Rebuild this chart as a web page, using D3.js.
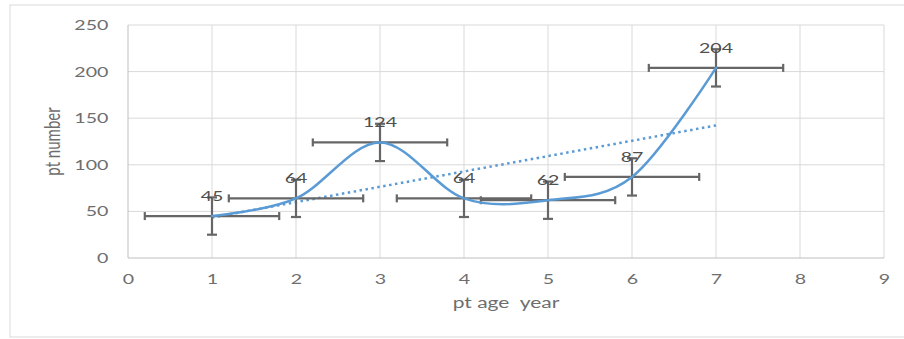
<!DOCTYPE html>
<html><head><meta charset="utf-8">
<script src="https://cdn.jsdelivr.net/npm/d3@7"></script>
<style>body{margin:0;background:#fff}svg{display:block}text{font-family:Lato,"Open Sans",sans-serif;white-space:pre}</style>
</head><body>
<svg id="c" width="904" height="339"></svg>
<script>
const ages = [1, 2, 3, 4, 5, 6, 7];
const counts = [45, 64, 124, 64, 62, 87, 204];
const xErr = [0.8, 0.8, 0.8, 0.8, 0.8, 0.8, 0.8];
const yErr = [20, 20, 20, 20, 20, 20, 20];
const xTicks = [0, 1, 2, 3, 4, 5, 6, 7, 8, 9];
const yTicks = [0, 50, 100, 150, 200, 250];
const xTitle = "pt age  year";
const yTitle = "pt number";

const SX = 1.4; // horizontal stretch of the reference text
const svg = d3.select("#c");
svg.append("rect").attr("x", 10).attr("y", 5).attr("width", 900).attr("height", 332)
  .attr("fill", "#fff").attr("stroke", "#d9d9d9").attr("stroke-width", 1);

const x = d3.scaleLinear().domain([0, 9]).range([128, 884]);
const y = d3.scaleLinear().domain([0, 250]).range([258, 25]);
const pts = ages.map((a, i) => ({x: a, y: counts[i], ex: xErr[i], ey: yErr[i]}));

// gridlines
const g = svg.append("g");
g.selectAll(".hg").data(yTicks.filter(d => d > 0)).join("line")
  .attr("x1", x(0)).attr("x2", x(9)).attr("y1", d => y(d)).attr("y2", d => y(d))
  .attr("stroke", "#d9d9d9").attr("stroke-width", 1);
g.selectAll(".vg").data(xTicks.filter(d => d > 0)).join("line")
  .attr("x1", d => x(d)).attr("x2", d => x(d)).attr("y1", y(0)).attr("y2", y(250))
  .attr("stroke", "#d9d9d9").attr("stroke-width", 1);
svg.append("line").attr("x1", x(0)).attr("x2", x(9)).attr("y1", y(0)).attr("y2", y(0)).attr("stroke", "#bfbfbf");
svg.append("line").attr("x1", x(0)).attr("x2", x(0)).attr("y1", y(0)).attr("y2", y(250)).attr("stroke", "#bfbfbf");

// axes tick labels via d3 axes
const xa = svg.append("g").attr("transform", `translate(0,${y(0)})`)
  .call(d3.axisBottom(x).tickValues(xTicks).tickSize(0).tickPadding(16).tickFormat(d3.format("d")));
const ya = svg.append("g").attr("transform", `translate(${x(0)},0)`)
  .call(d3.axisLeft(y).tickValues(yTicks).tickSize(0).tickPadding(14).tickFormat(d3.format("d")));
[xa, ya].forEach(a => {
  a.select(".domain").remove();
  a.selectAll("text").attr("fill", "#6e6e6e").style("font-size", "14px")
    .style("font-family", "Lato, sans-serif").attr("transform", `scale(${SX},1)`);
});

// titles
svg.append("text").attr("transform", `translate(${(x(0) + x(9)) / 2},308) scale(${SX},1)`)
  .attr("text-anchor", "middle").attr("fill", "#6e6e6e").style("font-size", "15px").text(xTitle);
svg.append("text").attr("transform", `translate(60,${(y(0) + y(250)) / 2}) scale(${SX},1) rotate(-90)`)
  .attr("text-anchor", "middle").attr("fill", "#6e6e6e").style("font-size", "15px").text(yTitle);

// trendline (least squares of the series)
const mx = d3.mean(ages), my = d3.mean(counts);
const slope = d3.sum(pts, p => (p.x - mx) * (p.y - my)) / d3.sum(pts, p => (p.x - mx) ** 2);
const icpt = my - slope * mx;
const xr = d3.extent(ages);
svg.append("line").attr("x1", x(xr[0])).attr("y1", y(icpt + slope * xr[0]))
  .attr("x2", x(xr[1])).attr("y2", y(icpt + slope * xr[1]))
  .attr("stroke", "#5b9bd5").attr("stroke-width", 2.5).attr("stroke-dasharray", "2.5,3.5");

// error bars
const eb = svg.append("g").attr("stroke", "#666").attr("stroke-width", 2.2);
pts.forEach(p => {
  eb.append("line").attr("x1", x(p.x - p.ex)).attr("x2", x(p.x + p.ex)).attr("y1", y(p.y)).attr("y2", y(p.y));
  eb.append("line").attr("x1", x(p.x - p.ex)).attr("x2", x(p.x - p.ex)).attr("y1", y(p.y) - 4).attr("y2", y(p.y) + 4);
  eb.append("line").attr("x1", x(p.x + p.ex)).attr("x2", x(p.x + p.ex)).attr("y1", y(p.y) - 4).attr("y2", y(p.y) + 4);
  eb.append("line").attr("x1", x(p.x)).attr("x2", x(p.x)).attr("y1", y(p.y - p.ey)).attr("y2", y(p.y + p.ey));
  eb.append("line").attr("x1", x(p.x) - 5).attr("x2", x(p.x) + 5).attr("y1", y(p.y - p.ey)).attr("y2", y(p.y - p.ey));
  eb.append("line").attr("x1", x(p.x) - 5).attr("x2", x(p.x) + 5).attr("y1", y(p.y + p.ey)).attr("y2", y(p.y + p.ey));
});

// smoothed series line
const line = d3.line().x(p => x(p.x)).y(p => y(p.y)).curve(d3.curveCardinal.tension(0));
svg.append("path").datum(pts).attr("d", line).attr("fill", "none")
  .attr("stroke", "#5b9bd5").attr("stroke-width", 2.5).attr("stroke-linecap", "round");

// data labels
svg.selectAll(".lbl").data(pts).join("text")
  .attr("transform", p => `translate(${x(p.x)},${y(p.y) - 15}) scale(${SX},1)`)
  .attr("text-anchor", "middle").attr("fill", "#505050").style("font-size", "14px").text(p => p.y);
</script>
</body></html>
